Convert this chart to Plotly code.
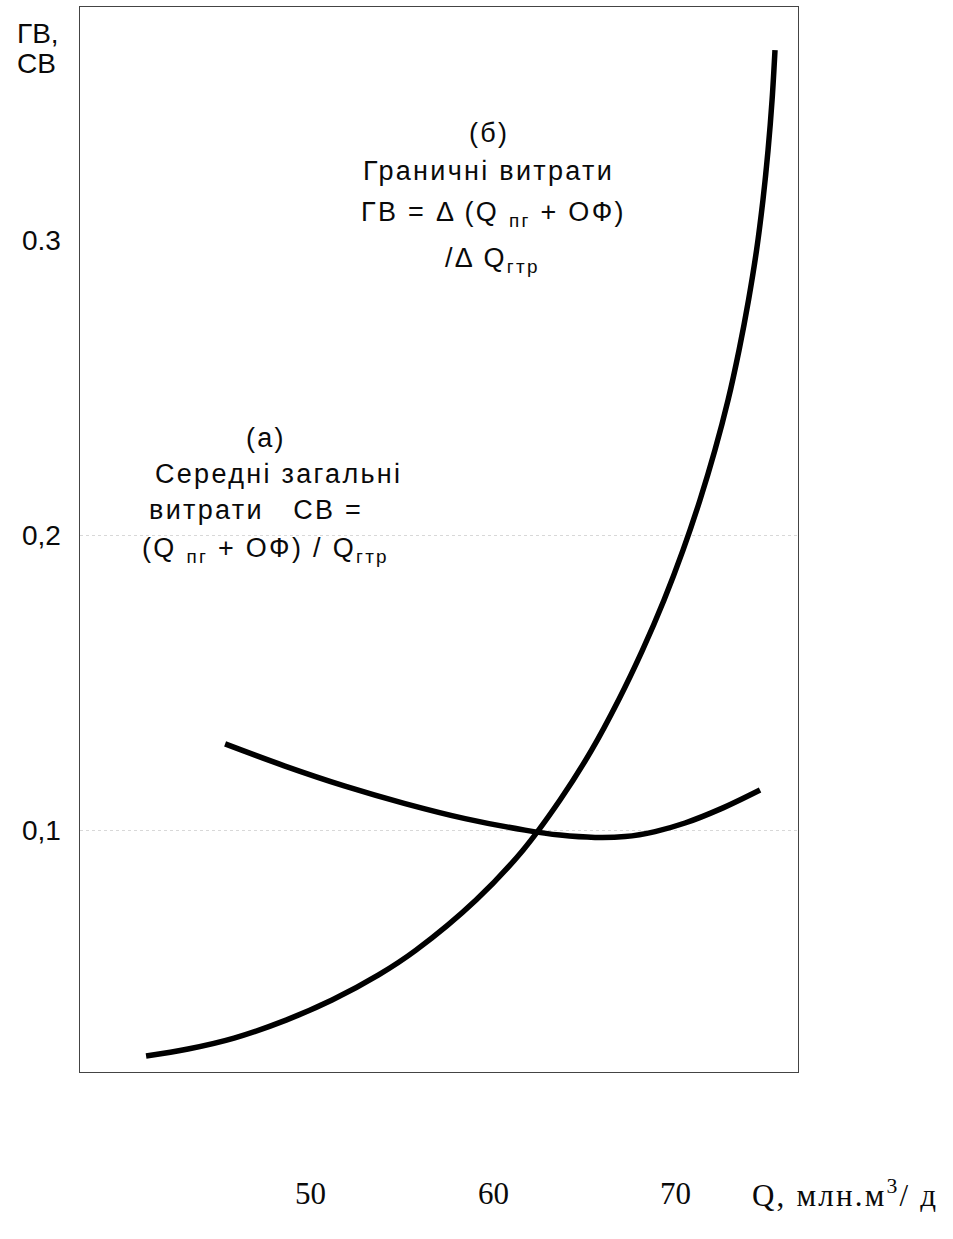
import plotly.graph_objects as go

# --- data -------------------------------------------------------------
# (б) marginal cost curve ГВ
q_gv = [40.99, 43.29, 45.81, 48.66, 51.18, 53.73, 55.78, 59.07, 61.64, 63.67,
        65.40, 66.88, 68.19, 69.37, 70.41, 71.34, 72.16, 72.88, 73.48, 74.00,
        74.44, 74.79, 75.07, 75.29, 75.45]
gv = [0.0234, 0.0258, 0.0295, 0.0356, 0.0424, 0.0509, 0.0593, 0.0763, 0.0932,
      0.1102, 0.1271, 0.1441, 0.1610, 0.1780, 0.1949, 0.2119, 0.2288, 0.2458,
      0.2627, 0.2797, 0.2966, 0.3136, 0.3305, 0.3475, 0.3644]

# (а) average total cost curve СВ
q_sv = [45.32, 48.60, 51.89, 55.18, 58.47, 61.75, 63.67, 65.59, 67.23, 68.88,
        70.52, 72.44, 74.63]
sv = [0.1292, 0.1217, 0.1149, 0.1090, 0.1039, 0.1000, 0.0983, 0.0975, 0.0978,
      0.0995, 0.1024, 0.1071, 0.1136]

x_ticks = [50, 60, 70]
x_tick_text = ["50", "60", "70"]
y_ticks = [0.1, 0.2, 0.3]
y_tick_text = ["0,1", "0,2", "0.3"]

# --- geometry -----------------------------------------------------------
W, H = 953, 1239
L, R, T, B = 80, 798, 7, 1072
X_RANGE = [37.37, 76.71]
Y_RANGE = [0.018, 0.379]


def px(p):
    return (p - L) / (R - L)


def py(p):
    return (B - p) / (B - T)


def spaced(s, ls):
    return f'<span style="letter-spacing:{ls}px">{s}</span>'


SANS = "Liberation Sans, Arial, sans-serif"
SERIF = "Liberation Serif, Times New Roman, serif"
INK = "#0a0a0a"

fig = go.Figure()
line_style = dict(color="#000000", width=5.5, shape="spline", smoothing=1.0)
fig.add_trace(go.Scatter(x=q_gv, y=gv, mode="lines", line=line_style,
                         name="ГВ", showlegend=False, hoverinfo="skip"))
fig.add_trace(go.Scatter(x=q_sv, y=sv, mode="lines", line=line_style,
                         name="СВ", showlegend=False, hoverinfo="skip"))

ann = []

# y-axis tick labels
for v, t in zip(y_ticks, y_tick_text):
    ann.append(dict(x=px(63), xref="paper", y=v, yref="y", text=t,
                    xanchor="right", yanchor="middle", showarrow=False,
                    font=dict(family=SANS, size=28, color=INK)))

# x-axis tick labels (far below the frame)
for v, t in zip(x_ticks, x_tick_text):
    ann.append(dict(x=v, xref="x", y=py(1193), yref="paper", text=t,
                    xanchor="center", yanchor="middle", showarrow=False,
                    font=dict(family=SERIF, size=31, color=INK)))

ann.append(dict(x=px(750), xref="paper", y=py(1193), yref="paper",
                text=spaced("Q, млн.м<sup>3</sup>/ д", 2.2),
                xanchor="left", yanchor="middle", showarrow=False,
                font=dict(family=SERIF, size=31, color=INK)))

# y-axis title
for txt, yy in [("ГВ,", 33), ("СВ", 63)]:
    ann.append(dict(x=px(15), xref="paper", y=py(yy), yref="paper",
                    text=txt, xanchor="left", yanchor="middle",
                    showarrow=False, font=dict(family=SANS, size=28, color=INK)))

# curve captions
captions = [
    ("(б)", 489, 133),
    ("Граничні витрати", 489, 171),
    ("ГВ = Δ (Q <sub>пг</sub> + ОФ)", 493, 214),
    ("/Δ Q<sub>гтр</sub>", 492, 260),
    ("(а)", 266, 438),
    ("Середні загальні", 278, 474),
    ("витрати   СВ =", 256, 510),
    ("(Q <sub>пг</sub> + ОФ) / Q<sub>гтр</sub>", 265, 550),
]
for txt, cx, cy in captions:
    ann.append(dict(x=px(cx), xref="paper", y=py(cy), yref="paper",
                    text=spaced(txt, 2.3), xanchor="center", yanchor="middle",
                    showarrow=False, font=dict(family=SANS, size=27, color=INK)))

fig.update_layout(
    width=W, height=H,
    margin=dict(l=L, r=W - R, t=T, b=H - B, pad=0),
    paper_bgcolor="white", plot_bgcolor="white",
    annotations=ann,
    xaxis=dict(range=X_RANGE, showgrid=False, zeroline=False,
               showline=True, mirror=True, linecolor="#444", linewidth=1,
               ticks="", showticklabels=False, tickvals=x_ticks),
    yaxis=dict(range=Y_RANGE, showgrid=True, gridcolor="#d8d8d8",
               griddash="dot", gridwidth=1, zeroline=False,
               showline=True, mirror=True, linecolor="#444", linewidth=1,
               ticks="", showticklabels=False, tickvals=y_ticks[:2]),
)

fig.write_html("out.html")
